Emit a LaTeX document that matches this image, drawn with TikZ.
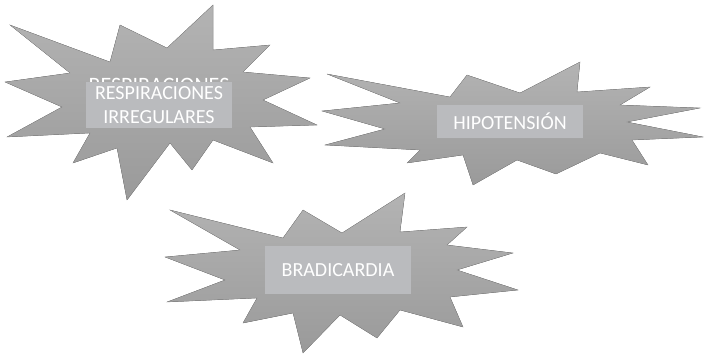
\documentclass[tikz,border=0pt]{standalone}
\usepackage{fontspec}
\setmainfont{Carlito}
\definecolor{burstgray}{HTML}{A6A6A6}
\definecolor{burstdark}{HTML}{9A9A9A}
\definecolor{labelgray}{HTML}{BABBBE}
\tikzset{
  burst/.style={top color=burstgray!85!white, bottom color=burstdark, draw=burstdark!90!black, line width=0.3pt, line join=miter},
  labelbox/.style={fill=labelgray, text=white, minimum width=146pt, inner sep=0pt, align=center, font=\fontsize{20}{24}\selectfont}
}
\begin{document}
\begin{tikzpicture}[x=1pt,y=-1pt]
    \useasboundingbox (0,0) rectangle (704,355);

    % first burst
    \fill[burst] (10,25) -- (110,62) -- (120,25) -- (167,48) -- (213,5)
      -- (213,50) -- (270,45) -- (243,72) -- (310,78) -- (263,100)
      -- (317,125) -- (250,127) -- (273,163) -- (213,140) -- (192,170)
      -- (170,143) -- (127,200) -- (117,148) -- (73,163) -- (90,133)
      -- (7,137) -- (62,107) -- (5,82) -- (70,73) -- cycle;

    % second burst
    \fill[burst] (327,74) -- (450,97) -- (467,75) -- (520,93) -- (580,62)
      -- (577,92) -- (650,87) -- (620,105) -- (700,108) -- (627,122)
      -- (703,137) -- (632,140) -- (648,165) -- (600,153) -- (556,174)
      -- (517,160) -- (473,185) -- (463,155) -- (407,163) -- (420,150)
      -- (325,145) -- (385,129) -- (322,111) -- (400,103) -- cycle;

    % third burst
    \fill[burst] (170,210) -- (283,238) -- (303,210) -- (342,233) -- (405,193)
      -- (400,232) -- (467,227) -- (447,245) -- (513,253) -- (457,270)
      -- (518,290) -- (450,297) -- (463,327) -- (400,310) -- (377,338)
      -- (340,315) -- (303,353) -- (293,313) -- (243,323) -- (257,298)
      -- (167,302) -- (225,280) -- (165,257) -- (240,250) -- cycle;

    % labels (the first one overflows behind its box)
    \node[text=white, font=\fontsize{22}{26}\selectfont, anchor=north, inner sep=0pt] (ghost) at (159,78.5) {RESPIRACIONES};
    \node[labelbox, minimum height=46pt] (resp) at (159,105) {RESPIRACIONES\\IRREGULARES};
    \node[labelbox, minimum height=33pt] (hipo) at (510,121.5) {HIPOTENSIÓN};
    \node[labelbox, minimum height=48pt] (brad) at (338,270) {BRADICARDIA};
\end{tikzpicture}
\end{document}
